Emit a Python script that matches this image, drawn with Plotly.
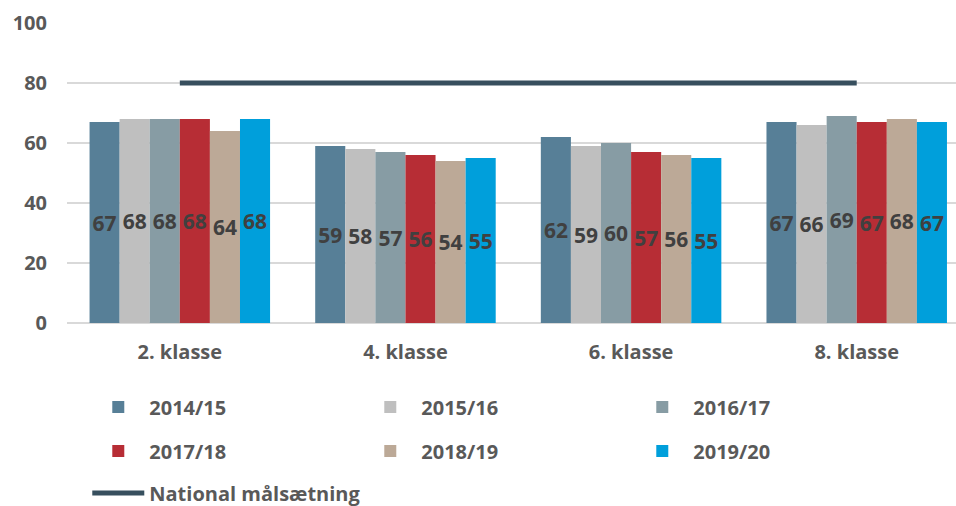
import plotly.graph_objects as go

categories = ["2. klasse", "4. klasse", "6. klasse", "8. klasse"]
years = ["2014/15", "2015/16", "2016/17", "2017/18", "2018/19", "2019/20"]
values = {
    "2014/15": [67, 59, 62, 67],
    "2015/16": [68, 58, 59, 66],
    "2016/17": [68, 57, 60, 69],
    "2017/18": [68, 56, 57, 67],
    "2018/19": [64, 54, 56, 68],
    "2019/20": [68, 55, 55, 67],
}
target_name = "National målsætning"
target = [80, 80, 80, 80]
y_ticks = [0, 20, 40, 60, 80, 100]

colors = ["#577f97", "#bfbfbf", "#879ca4", "#b72d35", "#bca997", "#009fdb"]
line_color = "#374f5e"
FONT = "Open Sans"
TXT = "#595959"

fig = go.Figure()
legend_of = ["legend", "legend", "legend", "legend2", "legend2", "legend2"]
for i, yr in enumerate(years):
    fig.add_trace(go.Bar(
        name=yr, x=categories, y=values[yr],
        marker=dict(color=colors[i], line=dict(width=0)),
        text=[str(v) for v in values[yr]],
        textposition="inside", insidetextanchor="middle",
        constraintext="none",
        textfont=dict(family=FONT, size=21, color="#404040", weight="bold"),
        legend=legend_of[i],
    ))
fig.add_trace(go.Scatter(
    name=target_name, x=categories, y=target, mode="lines",
    line=dict(color=line_color, width=5), legend="legend3",
))

leg_common = dict(
    orientation="h", xref="container", yref="container", x=0.0913,
    xanchor="left", yanchor="middle", entrywidth=205, entrywidthmode="pixels",
    itemwidth=52,
    font=dict(family=FONT, size=20, color=TXT, weight="bold"),
    bgcolor="rgba(0,0,0,0)", traceorder="normal",
)
fig.update_layout(
    width=956, height=506,
    margin=dict(l=67, r=0, t=23, b=183),
    plot_bgcolor="white", paper_bgcolor="white",
    barmode="group", bargap=0.2, bargroupgap=0,
    font=dict(family=FONT, color=TXT),
    legend=dict(leg_common, y=1 - 407 / 506),
    legend2=dict(leg_common, y=1 - 451 / 506),
    legend3=dict(leg_common, y=1 - 493 / 506, entrywidth=320),
    xaxis=dict(range=[-0.5, 3.44], showgrid=False, showline=False,
               tickfont=dict(family=FONT, size=20, color=TXT, weight="bold"),
               ticks="", ticklabelstandoff=15, automargin=False),
    yaxis=dict(range=[0, 100], tickvals=y_ticks, showgrid=True,
               gridcolor="#d9d9d9", gridwidth=1.5, zeroline=True,
               zerolinecolor="#d9d9d9", zerolinewidth=1.5,
               tickfont=dict(family=FONT, size=20, color=TXT, weight="bold"),
               ticks="", ticklabelstandoff=19, automargin=False),
)
fig.write_html("out.html", config={"displayModeBar": False},
               post_script="document.body.style.margin='0';document.body.style.overflow='hidden';")
